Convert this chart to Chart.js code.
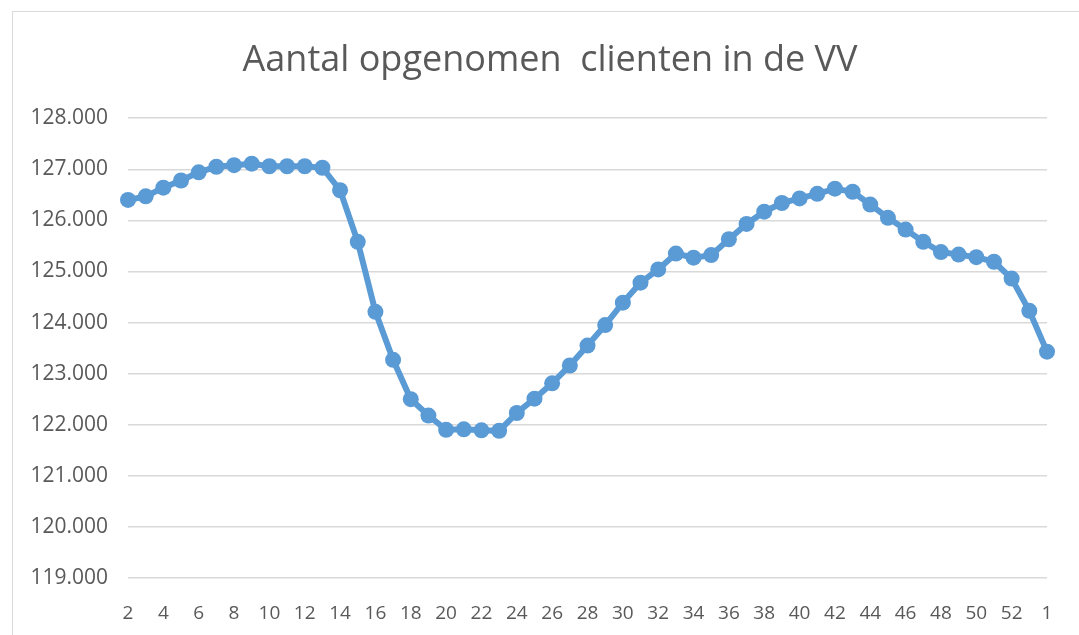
<!DOCTYPE html>
<html>
<head>
<meta charset="utf-8">
<title>Aantal opgenomen clienten in de VV</title>
<script src="https://cdn.jsdelivr.net/npm/chart.js@4.4.1/dist/chart.umd.min.js"></script>
<style>
  html, body { margin: 0; padding: 0; background: #fff; overflow: hidden; }
  #wrap { position: relative; width: 1079px; height: 635px; }
  #frame {
    position: absolute; left: 12px; top: 11px; width: 1200px; height: 800px;
    border-left: 1px solid #d9d9d9; border-top: 1px solid #d9d9d9;
  }
  #chart { position: absolute; left: 0; top: 0; }
</style>
</head>
<body>
<div id="wrap">
  <div id="frame"></div>
  <canvas id="chart" width="1079" height="635"></canvas>
</div>
<script>
// weeknummers, week 2 t/m 53 en daarna week 1
const weeks = ['2', '3', '4', '5', '6', '7', '8', '9', '10', '11', '12', '13', '14', '15', '16', '17',
  '18', '19', '20', '21', '22', '23', '24', '25', '26', '27', '28', '29', '30', '31', '32', '33',
  '34', '35', '36', '37', '38', '39', '40', '41', '42', '43', '44', '45', '46', '47', '48', '49',
  '50', '51', '52', '53', '1'];

const clients = [126400, 126470, 126640, 126780, 126940, 127050, 127080, 127110, 127060, 127060,
  127060, 127030, 126590, 125580, 124210, 123270, 122500, 122180, 121900, 121910, 121890, 121880,
  122230, 122510, 122810, 123160, 123550, 123950, 124390, 124780, 125040, 125350, 125270, 125320,
  125630, 125930, 126170, 126340, 126430, 126520, 126620, 126560, 126310, 126050, 125820, 125580,
  125380, 125330, 125280, 125190, 124860, 124230, 123430];

const yTicks = [119000, 120000, 121000, 122000, 123000, 124000, 125000, 126000, 127000, 128000];

const grey = '#595959';
const blue = '#5b9bd5';

function dutchNumber(v) {
  return String(v).replace(/\B(?=(\d{3})+(?!\d))/g, '.');
}

const ctx = document.getElementById('chart').getContext('2d');
const chart = new Chart(ctx, {
  type: 'line',
  data: {
    labels: weeks,
    datasets: [{
      label: 'Aantal opgenomen clienten',
      data: clients,
      borderColor: blue,
      backgroundColor: blue,
      borderWidth: 6,
      pointRadius: 8,
      pointBorderWidth: 0,
      pointBackgroundColor: blue,
      tension: 0
    }]
  },
  options: {
    responsive: false,
    animation: false,
    layout: { padding: { left: 21, right: 0, top: 0, bottom: 0 } },
    plugins: {
      legend: { display: false },
      tooltip: { enabled: false },
      title: {
        display: true,
        text: 'Aantal opgenomen  clienten in de VV',
        color: grey,
        font: { family: 'Open Sans', size: 36, weight: 'normal', lineHeight: 1.2 },
        padding: { top: 39, bottom: 36 }
      }
    },
    scales: {
      x: {
        offset: false,
        grid: { display: false },
        border: { display: false },
        ticks: {
          autoSkip: false,
          maxRotation: 0,
          padding: 16,
          color: grey,
          font: { family: 'Open Sans', size: 19 },
          callback: function (value, index) {
            return index % 2 === 0 ? weeks[index] : '';
          }
        },
        afterFit: function (scale) { scale.height = 57; }
      },
      y: {
        min: yTicks[0],
        max: yTicks[yTicks.length - 1],
        afterBuildTicks: function (scale) {
          scale.ticks = yTicks.map(v => ({ value: v }));
        },
        grid: { color: '#d9d9d9', lineWidth: 1.5, drawTicks: false },
        border: { display: false },
        ticks: {
          padding: 20,
          color: grey,
          font: { family: 'Open Sans', size: 21 },
          callback: function (value) { return dutchNumber(value); }
        },
        afterFit: function (scale) { scale.width = 107; }
      },
      // empty right axis, only keeps a margin right of the plot
      yRight: {
        position: 'right',
        grid: { display: false },
        border: { display: false },
        ticks: { display: false },
        afterFit: function (scale) { scale.width = 32; }
      }
    }
  }
});
</script>
</body>
</html>
